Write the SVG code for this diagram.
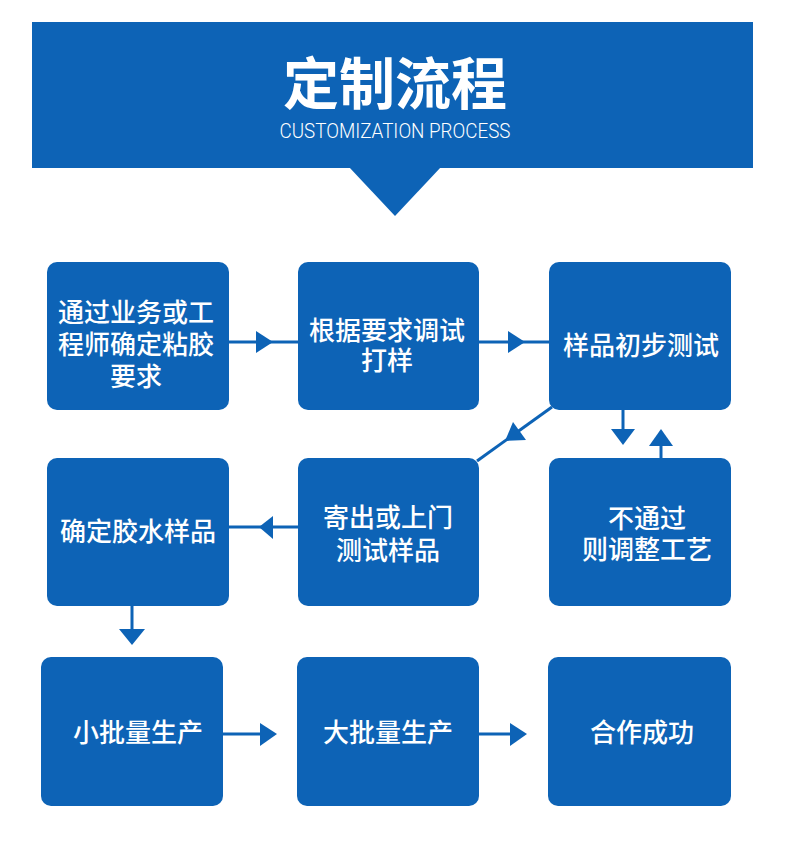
<svg xmlns="http://www.w3.org/2000/svg" width="790" height="865" viewBox="0 0 790 865">
<defs>
<style>
.box{fill:#0d63b6;}
.t{fill:#ffffff;font-family:"Noto Sans CJK SC","Noto Sans",sans-serif;font-size:26px;font-weight:500;text-anchor:middle;dominant-baseline:central;}
.ln{stroke:#0d63b6;stroke-width:3;fill:none;}
.ah{fill:#0d63b6;}
</style>
</defs>
<rect width="790" height="865" fill="#ffffff"/>
<g id="header">
<rect x="32" y="22" width="721" height="146" fill="#0d63b6"/>
<polygon points="349,167 441,167 395,216" fill="#0d63b6"/>
<text x="395" y="79" fill="#ffffff" font-family="Noto Sans CJK SC, sans-serif" font-size="56" font-weight="700" text-anchor="middle" dominant-baseline="central">定制流程</text>
<text x="395" y="138" fill="#ffffff" font-family="Roboto, 'Liberation Sans', sans-serif" font-size="21" font-weight="300" text-anchor="middle" textLength="231" lengthAdjust="spacingAndGlyphs">CUSTOMIZATION PROCESS</text>
</g>
<g id="connectors">
<line class="ln" x1="228" y1="342" x2="298" y2="342"/>
<polygon class="ah" points="256,331 273,342 256,353"/>
<line class="ln" x1="478" y1="342" x2="549" y2="342"/>
<polygon class="ah" points="508,331 525,342 508,353"/>
<line class="ln" x1="552" y1="407" x2="477" y2="461"/>
<polygon class="ah" points="505,441 513,422 526,440"/>
<line class="ln" x1="623" y1="410" x2="623" y2="430"/>
<polygon class="ah" points="611,429 635,429 623,445"/>
<line class="ln" x1="661" y1="444" x2="661" y2="458"/>
<polygon class="ah" points="649,446 673,446 661,429"/>
<line class="ln" x1="228" y1="527" x2="298" y2="527"/>
<polygon class="ah" points="273,516 259,527 273,539"/>
<line class="ln" x1="132" y1="606" x2="132" y2="630"/>
<polygon class="ah" points="119,629 145,629 132,645"/>
<line class="ln" x1="222" y1="734" x2="262" y2="734"/>
<polygon class="ah" points="260,723 277,734 260,746"/>
<line class="ln" x1="479" y1="734" x2="512" y2="734"/>
<polygon class="ah" points="510,723 527,734 510,746"/>
</g>
<g id="n1"><rect class="box" x="47" y="262" width="182" height="148" rx="10"/>
<text class="t"><tspan x="136" y="310">通过业务或工</tspan><tspan x="136" y="342">程师确定粘胶</tspan><tspan x="136" y="374">要求</tspan></text></g>
<g id="n2"><rect class="box" x="298" y="262" width="181" height="148" rx="10"/>
<text class="t"><tspan x="387" y="328">根据要求调试</tspan><tspan x="387" y="358">打样</tspan></text></g>
<g id="n3"><rect class="box" x="549" y="262" width="182" height="148" rx="10"/>
<text class="t" x="641" y="343">样品初步测试</text></g>
<g id="n4"><rect class="box" x="47" y="458" width="182" height="148" rx="10"/>
<text class="t" x="138" y="529">确定胶水样品</text></g>
<g id="n5"><rect class="box" x="298" y="458" width="181" height="148" rx="10"/>
<text class="t"><tspan x="388" y="515">寄出或上门</tspan><tspan x="388" y="548">测试样品</tspan></text></g>
<g id="n6"><rect class="box" x="549" y="458" width="182" height="148" rx="10"/>
<text class="t"><tspan x="647" y="516">不通过</tspan><tspan x="647" y="547">则调整工艺</tspan></text></g>
<g id="n7"><rect class="box" x="41" y="657" width="182" height="149" rx="10"/>
<text class="t" x="138" y="730">小批量生产</text></g>
<g id="n8"><rect class="box" x="297" y="657" width="182" height="149" rx="10"/>
<text class="t" x="388" y="730">大批量生产</text></g>
<g id="n9"><rect class="box" x="548" y="657" width="183" height="149" rx="10"/>
<text class="t" x="642" y="730">合作成功</text></g>
</svg>
